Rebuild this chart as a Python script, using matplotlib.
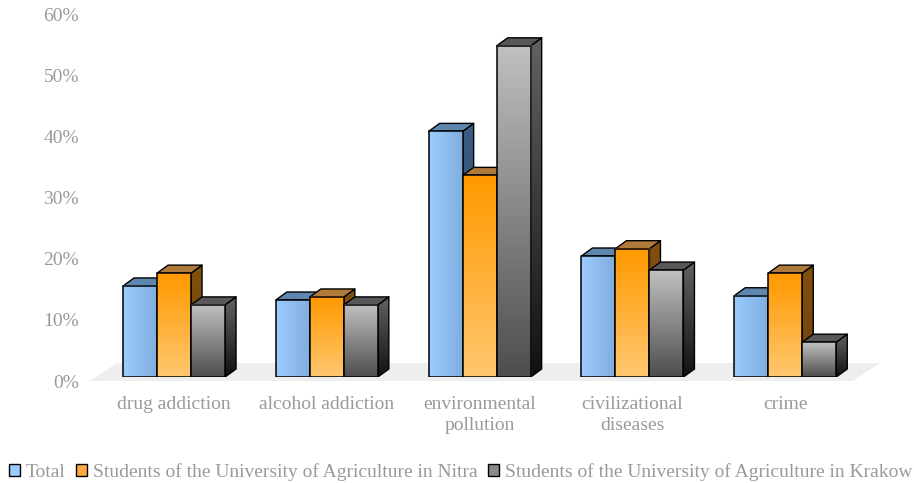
import numpy as np
import matplotlib
matplotlib.use("Agg")
import matplotlib.pyplot as plt
from matplotlib.patches import Polygon, Patch
from matplotlib.colors import LinearSegmentedColormap as LSC
from matplotlib.transforms import ScaledTranslation

categories = ["drug addiction", "alcohol addiction", "environmental\npollution",
              "civilizational\ndiseases", "crime"]
series_names = ["Total", "Students of the University of Agriculture in Nitra",
                "Students of the University of Agriculture in Krakow"]
total = [14.9, 12.6, 40.2, 19.8, 13.3]
nitra = [17.0, 13.1, 33.0, 21.0, 17.0]
krakow = [11.8, 11.8, 54.2, 17.5, 5.7]
yticks = [0, 10, 20, 30, 40, 50, 60]

W, H = 914, 483
FONT = "Liberation Serif"
TXT = "#9a9a9a"
FS = 14
fig = plt.figure(figsize=(W/100, H/100), dpi=100)
ax = fig.add_axes([90/W, (H-377)/H, 790/W, 366.6/H])
x0, x1 = -0.55, 4.62
ax.set_xlim(x0, x1); ax.set_ylim(0, 60)
ax.set_facecolor("none")
for s in ax.spines.values():
    s.set_visible(False)

px = (x1-x0)/790   # data units per pixel, x
py = 60/366.6      # data units per pixel, y
bw = 34*px
dx, dy = 11*px, 8*py

# floor
ax.add_patch(Polygon([(x0, -4*py), (x0+27*px, 14*py), (x1, 14*py), (x1-27*px, -4*py)],
                     closed=True, fc="#eeeeee", ec="none", clip_on=False, zorder=0))

styles = [
    dict(front=("#9ccbff", "#80aede"), vertical=False, side=("#3d5f85", "#1f3a58"), top="#5f86ae", legend="#9ccbff"),
    dict(front=("#ff9900", "#ffc76f"), vertical=True, side=("#82500f", "#70440c"), top="#b07a3a", legend="#ffaa40"),
    dict(front=("#c0c0c0", "#4e4e4e"), vertical=True, side=("#626262", "#111111"), top="#585858", legend="#8a8a8a"),
]

def grad(c, vertical):
    cmap = LSC.from_list("g", c)
    g = np.linspace(0, 1, 64)
    return (g[:, None] if vertical else g[None, :]), cmap

z = 2
for s_i, (vals, st) in enumerate(zip([total, nitra, krakow], styles)):
    for c_i, v in enumerate(vals):
        l = c_i - 1.5*bw + s_i*bw
        r = l + bw
        # side face with gradient
        data, cmap = grad(st["side"], True)
        side = Polygon([(r, 0), (r+dx, dy), (r+dx, v+dy), (r, v)], closed=True,
                       fc="none", ec="black", lw=1.0, zorder=z+.2, joinstyle="round")
        ax.add_patch(side)
        im = ax.imshow(data, cmap=cmap, extent=(r, r+dx, 0, v+dy), aspect="auto",
                       origin="upper", zorder=z, interpolation="bilinear")
        im.set_clip_path(side)
        # top face
        ax.add_patch(Polygon([(l, v), (l+dx, v+dy), (r+dx, v+dy), (r, v)], closed=True,
                             fc=st["top"], ec="black", lw=1.0, zorder=z+.2, joinstyle="round"))
        # front face
        data, cmap = grad(st["front"], st["vertical"])
        ax.imshow(data, cmap=cmap, extent=(l, r, 0, v), aspect="auto", origin="upper",
                  zorder=z+.3, interpolation="bilinear")
        ax.add_patch(Polygon([(l, 0), (l, v), (r, v), (r, 0)], closed=True, fc="none",
                             ec="black", lw=1.1, zorder=z+.4, joinstyle="round"))
    z += 1

# restore limits changed by imshow
ax.set_xlim(x0, x1); ax.set_ylim(0, 60)

# tick labels
ax.set_yticks(yticks, [f"{t}%" for t in yticks], fontname=FONT, fontsize=FS, color=TXT)
ax.set_xticks(range(len(categories)), categories, fontname=FONT, fontsize=FS, color=TXT)
for t in ax.get_xticklabels():
    t.set_linespacing(1.3)
ax.tick_params(axis="both", length=0)
ax.tick_params(axis="y", pad=8)
ax.tick_params(axis="x", pad=13.5)
off = ScaledTranslation(0, -4/100, fig.dpi_scale_trans)
for t in ax.get_yticklabels():
    t.set_transform(t.get_transform() + off)

handles = [Patch(fc=st["legend"], ec="black", lw=1.0) for st in styles]
leg = fig.legend(handles, series_names, loc="center", bbox_to_anchor=(461/W, (H-472)/H), ncol=3,
                 frameon=False, prop={"family": FONT, "size": FS}, labelcolor=TXT,
                 handlelength=0.57, handleheight=0.57, handletextpad=0.3, columnspacing=0.54,
                 borderpad=0, borderaxespad=0)

fig.savefig("out.png", dpi=100)
